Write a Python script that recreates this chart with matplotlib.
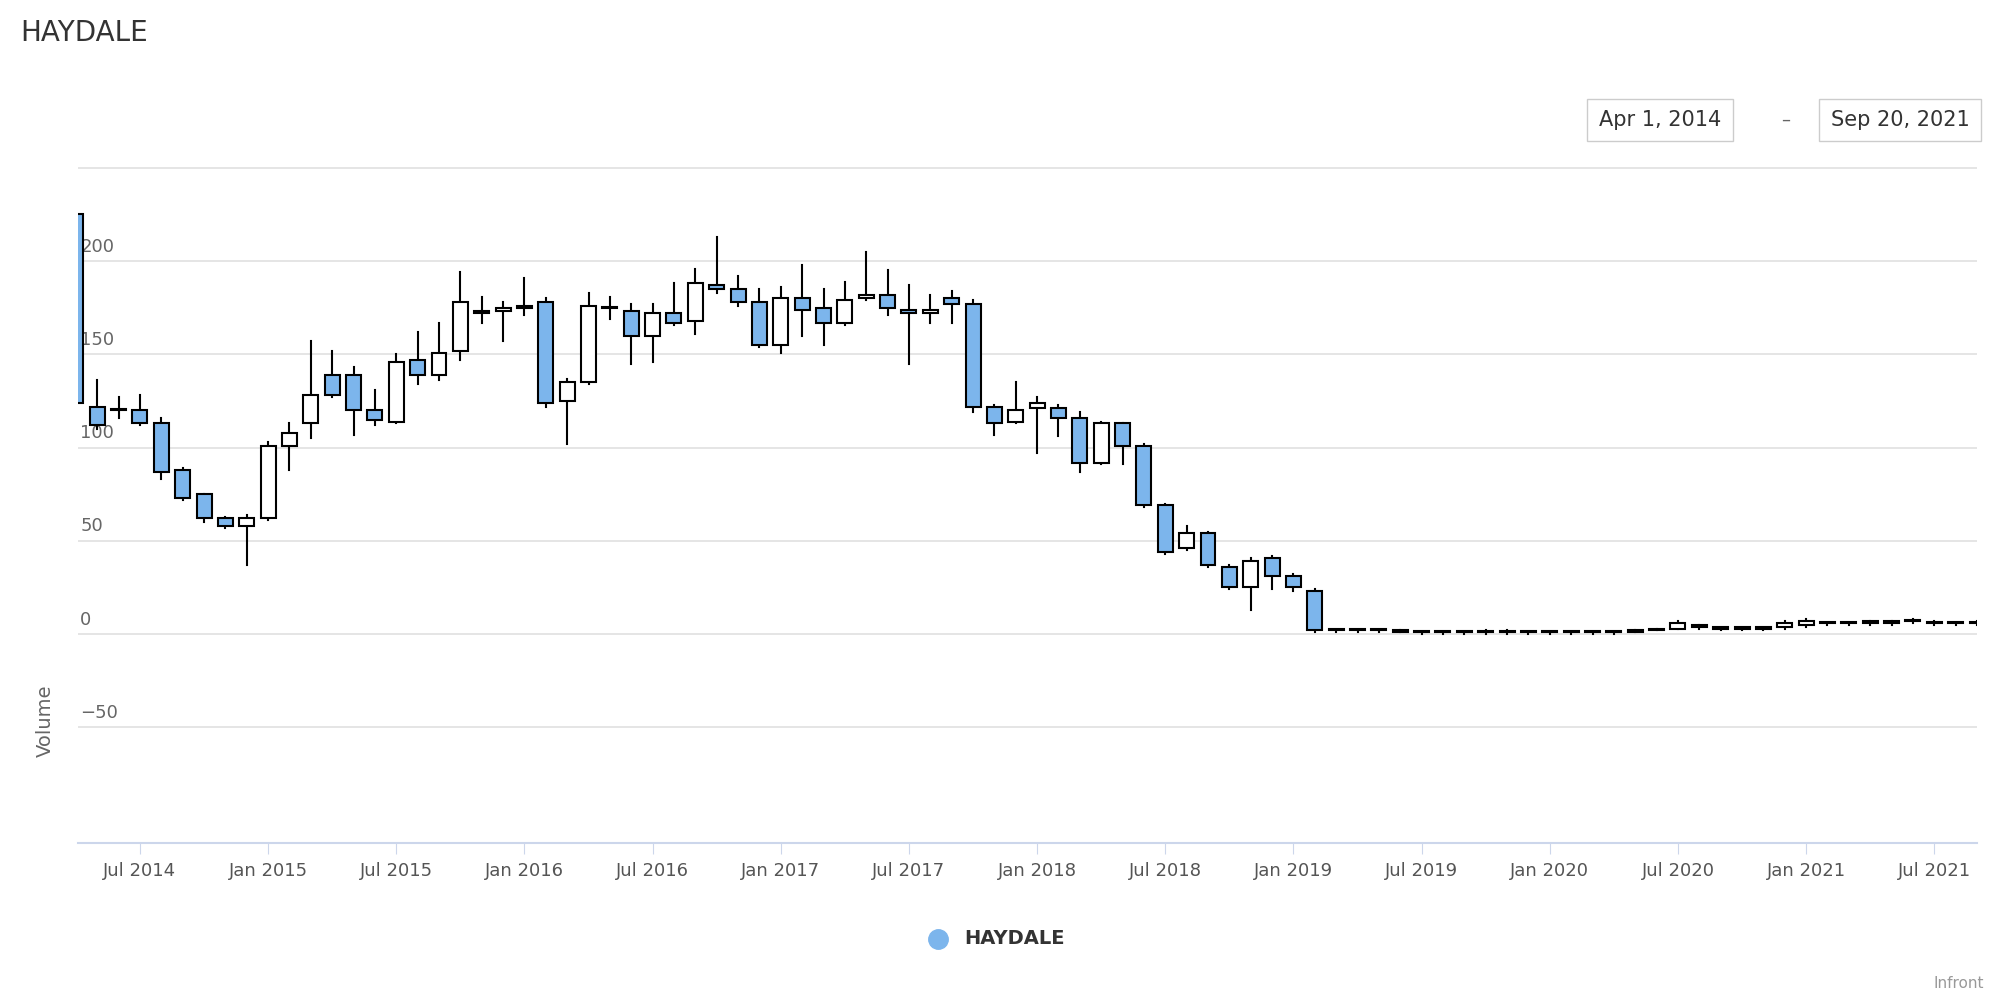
import matplotlib
matplotlib.use('Agg')
import matplotlib.pyplot as plt
from matplotlib.patches import Rectangle
from matplotlib.lines import Line2D

# monthly candles, Apr 2014 .. Sep 2021 (index 0 = Apr 2014)
opens = [225, 122, 120, 120, 113, 88, 75, 62, 58, 62, 101, 113, 139, 139, 120, 114, 147, 139, 152, 172, 173, 175, 178, 125, 135, 175, 173, 160, 172, 168, 187, 185, 178, 155, 180, 175, 167, 180, 182, 174, 172, 180, 177, 122, 114, 121, 121, 116, 92, 113, 101, 69, 46, 54, 36, 25, 41, 31, 23,
         2, 2, 2, 2, 1, 1, 1, 1, 1, 1, 1, 1, 1, 1, 1, 2, 3, 5, 3, 3, 3, 4, 5, 6, 6, 6, 6, 7, 6, 6, 6]
closes = [124, 112, 120, 113, 87, 73, 62, 58, 62, 101, 108, 128, 128, 120, 115, 146, 139, 151, 178, 173, 175, 176, 124, 135, 176, 175, 160, 172, 167, 188, 185, 178, 155, 180, 174, 167, 179, 182, 175, 172, 174, 177, 122, 113, 120, 124, 116, 92, 113, 101, 69, 44, 54, 37, 25, 39, 31, 25, 2,
          2, 2, 2, 1, 1, 1, 1, 1, 1, 1, 1, 1, 1, 1, 2, 3, 6, 4, 3, 3, 3, 6, 7, 6, 6, 7, 7, 7, 6, 6, 6]
highs = [226, 136, 127, 128, 116, 89, 75, 63, 64, 103, 113, 157, 152, 143, 131, 150, 162, 167, 194, 181, 178, 191, 180, 137, 183, 181, 177, 177, 188, 196, 213, 192, 185, 186, 198, 185, 189, 205, 195, 187, 182, 184, 179, 123, 135, 127, 123, 119, 114, 113, 102, 70, 58, 55, 37, 41, 42, 32, 24,
         2, 2, 2, 2, 1, 1, 1, 2, 2, 1, 1, 1, 1, 1, 2, 3, 7, 5, 3, 3, 3, 7, 8, 6, 6, 7, 7, 8, 7, 6, 7]
lows = [122, 110, 116, 112, 83, 72, 60, 57, 37, 61, 88, 105, 127, 107, 112, 113, 134, 136, 147, 167, 157, 171, 122, 102, 134, 169, 145, 146, 166, 161, 183, 176, 154, 151, 160, 155, 166, 179, 171, 145, 167, 167, 119, 107, 113, 97, 106, 87, 91, 91, 68, 43, 45, 36, 24, 13, 24, 23, 1,
        1, 1, 1, 1, 0, 0, 0, 0, 0, 0, 0, 0, 0, 0, 1, 2, 3, 3, 2, 2, 2, 3, 4, 5, 5, 5, 5, 6, 5, 5, 5]

tick_pos = [3, 9, 15, 21, 27, 33, 39, 45, 51, 57, 63, 69, 75, 81, 87]
tick_labels = ["Jul 2014", "Jan 2015", "Jul 2015", "Jan 2016", "Jul 2016", "Jan 2017", "Jul 2017",
               "Jan 2018", "Jul 2018", "Jan 2019", "Jul 2019", "Jan 2020", "Jul 2020", "Jan 2021", "Jul 2021"]

blue = "#7cb5ec"
fig = plt.figure(figsize=(20, 10), dpi=100)
ax = fig.add_axes([0.039, 0.157, 0.9495, 0.677])

w = 0.7
for i in range(len(opens)):
    o, c, h, l = opens[i], closes[i], highs[i], lows[i]
    ax.plot([i, i], [l, h], color="black", lw=1.5, zorder=2)
    fc = blue if c < o else "white"
    ax.add_patch(Rectangle((i - w / 2, min(o, c)), w, max(abs(c - o), 0.6),
                           facecolor=fc, edgecolor="black", lw=1.5, zorder=3))

ax.set_xlim(0.1, 89.0)
ax.set_ylim(-112, 251)
for yv in range(-50, 251, 50):
    ax.axhline(yv, color="#e0e0e0", lw=1.2, zorder=0)
for yv in range(-50, 201, 50):
    ax.text(0.2, yv + 3, "%d" % yv if yv >= 0 else "\u221250", fontsize=13, color="#666666",
            va="bottom", ha="left", zorder=1)
ax.set_yticks([])
ax.set_xticks(tick_pos)
ax.set_xticklabels(tick_labels, fontsize=13, color="#555555")
ax.tick_params(axis="x", length=8, color="#ccd6eb", pad=6)
for s in ["top", "right", "left"]:
    ax.spines[s].set_visible(False)
ax.spines["bottom"].set_color("#ccd6eb")
ax.spines["bottom"].set_linewidth(1.5)
ax.set_ylabel("Volume", fontsize=14, color="#666666")
ax.yaxis.set_label_coords(-0.012, 0.18)

fig.text(0.010, 0.967, "HAYDALE", fontsize=20, color="#333333", va="center")
for xc, txt in [(0.830, "Apr 1, 2014"), (0.950, "Sep 20, 2021")]:
    fig.text(xc, 0.880, txt, fontsize=15, color="#333333", ha="center", va="center",
             bbox=dict(boxstyle="square,pad=0.55", fc="white", ec="#cccccc"))
fig.text(0.893, 0.880, "\u2013", fontsize=13, color="#666666", ha="center", va="center")
fig.add_artist(Line2D([0.469], [0.061], marker="o", markersize=14, color=blue,
                      transform=fig.transFigure))
fig.text(0.482, 0.061, "HAYDALE", fontsize=14, weight="bold", color="#333333", va="center")
fig.text(0.992, 0.016, "Infront", fontsize=11, color="#999999", ha="right", va="center")

plt.savefig("out.png")
